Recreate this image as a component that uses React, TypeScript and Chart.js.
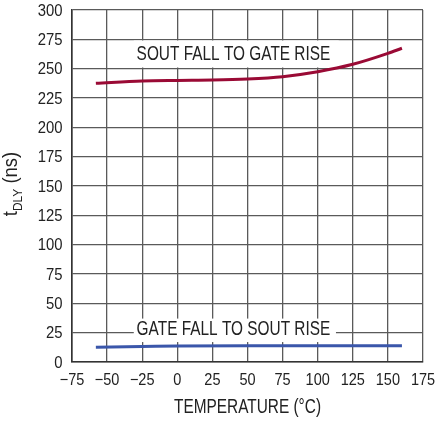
import React, { useEffect, useRef } from "react";
import { Chart, registerables } from "chart.js";

Chart.register(...registerables);

const FONT = "'Liberation Sans', Arial, sans-serif";

const xTicksMin = -75;
const xTicksMax = 175;
const xStep = 25;
const yTicksMin = 0;
const yTicksMax = 300;
const yStep = 25;

const soutFallTemps = [-58, -25, 0, 25, 50, 75, 100, 125, 150, 160];
const soutFallDelay = [237.5, 239.5, 240, 240.3, 241.2, 243.2, 247.4, 253.7, 263, 267.4];

const gateFallTemps = [-58, -25, 0, 50, 100, 160];
const gateFallDelay = [12.6, 13.2, 13.7, 13.9, 13.9, 13.8];

const labelTop = "SOUT FALL TO GATE RISE";
const labelBottom = "GATE FALL TO SOUT RISE";
const xTitle = "TEMPERATURE (°C)";

const TEXT = "#222";

const fmt = (v: number) => (v < 0 ? "\u2212" + Math.abs(v) : String(v));

// draw horizontally condensed text
function cText(
  ctx: CanvasRenderingContext2D,
  text: string,
  x: number,
  y: number,
  size: number,
  sx: number,
  align: "left" | "center" | "right",
  baseline: CanvasTextBaseline = "middle"
) {
  ctx.save();
  ctx.font = `${size}px ${FONT}`;
  ctx.textAlign = align;
  ctx.textBaseline = baseline;
  ctx.translate(x, y);
  ctx.scale(sx, 1);
  ctx.fillText(text, 0, 0);
  ctx.restore();
}

const overlayPlugin = {
  id: "overlay",
  beforeDatasetsDraw(chart: any) {
    const ctx = chart.ctx;
    const xs = chart.scales.x;
    const ys = chart.scales.y;
    ctx.save();
    ctx.fillStyle = "#ffffff";
    const x0 = xs.getPixelForValue(-31);
    const x1 = xs.getPixelForValue(113);
    const x2 = xs.getPixelForValue(115);
    const tA = ys.getPixelForValue(274);
    const tB = ys.getPixelForValue(251);
    ctx.fillRect(x0, tA, x2 - x0, tB - tA);
    const bA = ys.getPixelForValue(37);
    const bB = ys.getPixelForValue(17);
    ctx.fillRect(x0, bA, x1 - x0, bB - bA);
    ctx.fillStyle = TEXT;
    cText(ctx, labelTop, xs.getPixelForValue(40), ys.getPixelForValue(262.5), 20, 0.77, "center");
    cText(ctx, labelBottom, xs.getPixelForValue(40), ys.getPixelForValue(27.7), 20, 0.77, "center");
    ctx.restore();
  },
  afterDraw(chart: any) {
    const ctx = chart.ctx;
    const area = chart.chartArea;
    const xs = chart.scales.x;
    const ys = chart.scales.y;
    ctx.save();
    ctx.fillStyle = TEXT;
    // tick labels
    for (const t of xs.ticks) {
      cText(ctx, fmt(t.value), xs.getPixelForValue(t.value), area.bottom + 18, 16.5, 0.88, "center");
    }
    for (const t of ys.ticks) {
      cText(ctx, fmt(t.value), area.left - 9.5, ys.getPixelForValue(t.value) + 1, 16.5, 0.9, "right");
    }
    // x title
    cText(ctx, xTitle, (area.left + area.right) / 2, 407, 20, 0.77, "center");

    // y-axis title with subscript
    const big = 20;
    const small = 13;
    const sx = 0.92;
    ctx.font = `${big}px ${FONT}`;
    const wT = ctx.measureText("t").width * sx;
    const wNs = ctx.measureText(" (ns)").width * sx;
    ctx.font = `${small}px ${FONT}`;
    const wD = ctx.measureText("DLY").width * sx;
    const total = wT + wD + wNs;
    const cy = (area.top + area.bottom) / 2 - 2;
    ctx.translate(17, cy);
    ctx.rotate(-Math.PI / 2);
    let px = -total / 2;
    cText(ctx, "t", px, 0, big, sx, "left", "alphabetic");
    px += wT;
    cText(ctx, "DLY", px, 4.5, small, sx, "left", "alphabetic");
    px += wD;
    cText(ctx, " (ns)", px, 0, big, sx, "left", "alphabetic");
    ctx.restore();
  },
};

export default function App() {
  const ref = useRef<HTMLCanvasElement | null>(null);
  useEffect(() => {
    document.body.style.margin = "0";
    const c = ref.current;
    if (!c) return;
    const chart = new Chart(c, {
      type: "line",
      data: {
        datasets: [
          {
            label: labelTop,
            data: soutFallTemps.map((t, i) => ({ x: t, y: soutFallDelay[i] })),
            borderColor: "#9a0a35",
            borderWidth: 3,
            pointRadius: 0,
            cubicInterpolationMode: "monotone",
            fill: false,
          },
          {
            label: labelBottom,
            data: gateFallTemps.map((t, i) => ({ x: t, y: gateFallDelay[i] })),
            borderColor: "#3a56aa",
            borderWidth: 3,
            pointRadius: 0,
            cubicInterpolationMode: "monotone",
            fill: false,
          },
        ],
      },
      options: {
        animation: false,
        responsive: true,
        maintainAspectRatio: false,
        layout: { padding: { top: 10, right: 16, left: 0, bottom: 0 } },
        plugins: { legend: { display: false }, tooltip: { enabled: false } },
        scales: {
          x: {
            type: "linear",
            min: xTicksMin,
            max: xTicksMax,
            ticks: { stepSize: xStep, display: false, autoSkip: false },
            grid: { color: "#5a5a5a", lineWidth: 1.3, drawTicks: false },
            border: { color: "#333", width: 1.6 },
            afterFit: (s: any) => {
              s.height = 61;
            },
          },
          y: {
            type: "linear",
            min: yTicksMin,
            max: yTicksMax,
            ticks: { stepSize: yStep, display: false, autoSkip: false },
            grid: { color: "#5a5a5a", lineWidth: 1.3, drawTicks: false },
            border: { color: "#333", width: 1.6 },
            afterFit: (s: any) => {
              s.width = 72;
            },
          },
        },
      },
      plugins: [overlayPlugin],
    } as any);
    return () => chart.destroy();
  }, []);
  return (
    <div style={{ width: 439, height: 423, position: "relative" }}>
      <canvas ref={ref} />
    </div>
  );
}
